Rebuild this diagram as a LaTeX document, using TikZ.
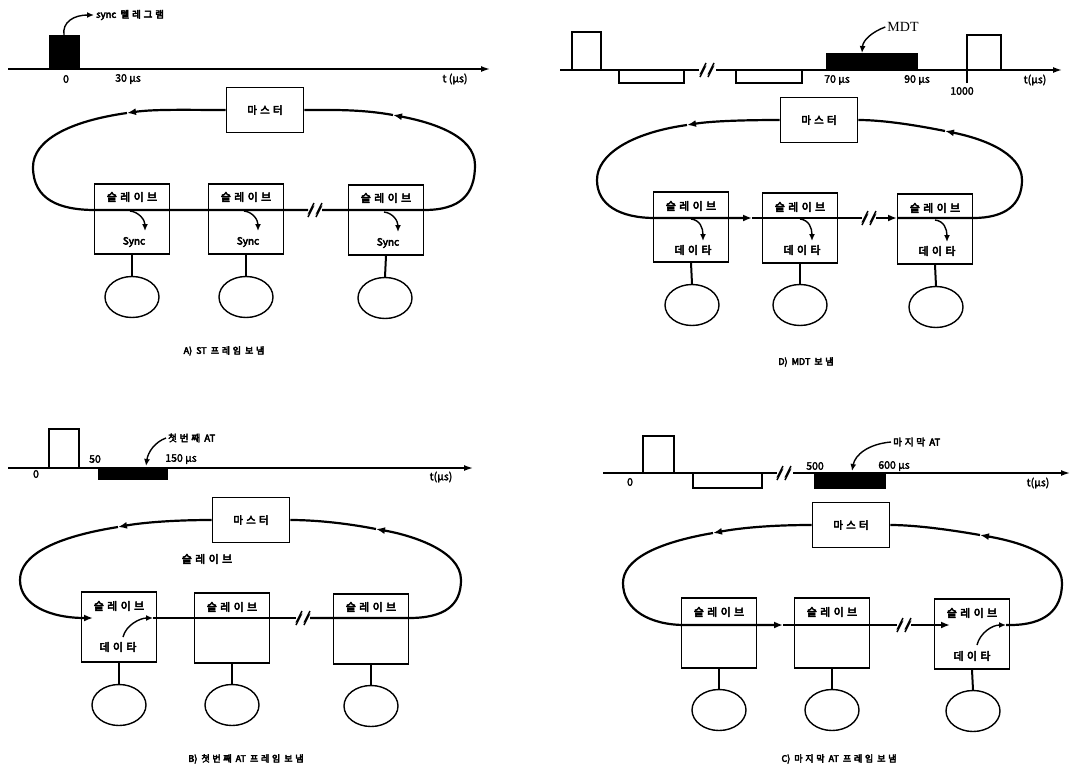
\documentclass[tikz,border=0pt]{standalone}
\usepackage{fontspec}
\setmainfont{Noto Sans CJK KR}[FakeBold=2.5]
\newfontfamily\kr{Noto Sans CJK KR}[FakeBold=4.5]
\newfontfamily\mdtfont{Liberation Serif}
\usetikzlibrary{arrows.meta,shapes.geometric}
\newcommand{\ls}{\hspace{0.3em}}
\newcommand{\zigbreak}[2]{%
  \draw[sigl,shift={(#1+3,#2)}] (-3,7)--(1,-1)--(-1,1)--(3,-7);
  \draw[sigl,shift={(#1+11,#2)}] (-3,7)--(1,-1)--(-1,1)--(3,-7);}
\newcommand{\slvtxt}{슬\ls 레\ls 이\ls 브}
\newcommand{\msttxt}{마\ls 스\ls 터}
\newcommand{\dattxt}{데\ls 이\ls 타}
\begin{document}
\begin{tikzpicture}[x=1pt,y=-1pt,
  ringl/.style={line width=2.2pt},
  arr/.style={-{Latex[length=9pt,width=7pt]}},
  slv/.style={draw,line width=1.6pt,minimum width=75pt,minimum height=70pt,inner sep=0pt},
  mst/.style={draw,line width=1.6pt,minimum width=77pt,minimum height=45pt,inner sep=0pt,font=\kr\fontsize{10.5}{10.5}\selectfont},
  devc/.style={draw,ellipse,line width=1.4pt,minimum width=54pt,minimum height=41pt,inner sep=0pt},
  stemline/.style={line width=2pt},
  lbl/.style={font=\kr\fontsize{11}{11}\selectfont,inner sep=0pt},
  numl/.style={font=\fontsize{10.5}{10.5}\selectfont,inner sep=0pt},
  captxt/.style={font=\kr\fontsize{9}{9}\selectfont,inner sep=0pt},
  tax/.style={line width=1.5pt,-{Latex[length=9pt,width=6pt]}},
  sigl/.style={line width=1.4pt},
  inarr/.style={line width=1.4pt,-{Latex[length=7pt,width=6pt]}},
]
\useasboundingbox (0,0) rectangle (1082,769);

%% ================= Panel A =================
\draw[tax] (8,69) -- (490,69);
\fill (49,35) rectangle (80,69);
\node[lbl,anchor=west,font=\kr\fontsize{9.5}{9.5}\selectfont] (aSyncL) at (96,15) {sync\ \ 텔\ls 레\ls 그\ls 램};
\draw[inarr] (64,35) .. controls (62,22) and (74,15) .. ([xshift=-2pt]aSyncL.west);
\node[numl] (a0) at (66,79) {0};
\node[numl] (a30) at (128,79) {30 μs};
\node[numl] (aT) at (455,79) {t (μs)};

\node[mst] (aM) at (265,110) {\msttxt};
\node[slv] (aS1) at (132,219) {};
\node[slv] (aS2) at (246,219) {};
\node[slv] (aS3) at (386,220) {};
\node[lbl] (aL1) at (132,197) {\slvtxt};
\node[lbl] (aL2) at (246,197) {\slvtxt};
\node[lbl] (aL3) at (386,198) {\slvtxt};
\node[lbl,font=\kr\fontsize{10}{10}\selectfont] (aY1) at (134,242) {Sync};
\node[lbl,font=\kr\fontsize{10}{10}\selectfont] (aY2) at (248,242) {Sync};
\node[lbl,font=\kr\fontsize{10}{10}\selectfont] (aY3) at (388,243) {Sync};
\node[devc] (aE1) at (132,297) {};
\node[devc] (aE2) at (246,297) {};
\node[devc] (aE3) at (385,298) {};
\draw[stemline] (aS1.south) -- (aE1.north);
\draw[stemline] (aS2.south) -- (aE2.north);
\draw[stemline] (aS3.south) -- (aE3.north);

\coordinate (aA1) at (127,113);
\coordinate (aA2) at (393,115);
\coordinate (aJL) at (95,210);
\coordinate (aJR) at (424,210);
\draw[ringl,arr] (aM.west) .. controls (190,110) and (155,109) .. (aA1);
\draw[ringl] (aA1) .. controls (70,121) and (33,140) .. (33,167) .. controls (33,200) and (60,210) .. (aJL) -- (308,210);
\zigbreak{308}{210}
\draw[ringl,arr] (322,210) -- (aJR) .. controls (460,210) and (475,195) .. (475,165) .. controls (475,135) and (430,122) .. (aA2);
\draw[ringl] (aA2) .. controls (360,109) and (330,110) .. (aM.east);
\draw[inarr] (130,211) .. controls (139,212) and (145,220) .. (145,231);
\draw[inarr] (244,211) .. controls (253,212) and (258,220) .. (258,231);
\draw[inarr] (384,212) .. controls (393,213) and (398,221) .. (398,232);
\node[captxt] (aCap) at (224,351) {A)\ \ ST\ \ 프\ls 레\ls 임\ \ 보\ls 냄};

%% ================= Panel D =================
\draw[tax] (700,70) -- (1062,70);
\draw[sigl] (560,70) -- (700,70);
\draw[sigl] (572,70) -- (572,32) -- (601,32) -- (601,70);
\draw[sigl] (619,70) -- (619,83) -- (684,83) -- (684,70);
\draw[line width=2pt,white] (699,70) -- (716,70);
\zigbreak{700}{70}
\draw[sigl] (736,70) -- (736,83) -- (802,83) -- (802,70);
\fill (826,53) rectangle (918,70);
\draw[sigl] (967,83) -- (967,35) -- (1001,35) -- (1001,70);
\node[inner sep=0pt,font=\mdtfont\fontsize{14}{14}\selectfont] (dMDT) at (903,27) {MDT};
\draw[inarr] ([xshift=-2pt]dMDT.west) .. controls (872,32) and (863,40) .. (862,53);
\node[numl] (d70) at (837,80) {70 μs};
\node[numl] (d90) at (917,80) {90 μs};
\node[numl] (d1000) at (962,91) {1000};
\node[numl] (dT) at (1035,80) {t(μs)};

\node[mst] (dM) at (819,120) {\msttxt};
\node[slv] (dS1) at (691,227) {};
\node[slv] (dS2) at (800,228) {};
\node[slv] (dS3) at (935,229) {};
\node[lbl] (dL1) at (691,206) {\slvtxt};
\node[lbl] (dL2) at (800,207) {\slvtxt};
\node[lbl] (dL3) at (935,208) {\slvtxt};
\node[lbl] (dD1) at (693,250) {\dattxt};
\node[lbl] (dD2) at (802,250) {\dattxt};
\node[lbl] (dD3) at (937,251) {\dattxt};
\node[devc] (dE1) at (692,305) {};
\node[devc] (dE2) at (800,305) {};
\node[devc] (dE3) at (936,307) {};
\draw[stemline] (dS1.south) -- (dE1.north);
\draw[stemline] (dS2.south) -- (dE2.north);
\draw[stemline] (dS3.south) -- (dE3.north);

\coordinate (dA1) at (687,125);
\coordinate (dA2) at (945,131);
\coordinate (dJL) at (655,218);
\coordinate (dJR) at (973,218);
\coordinate (dM1) at (752,218);
\coordinate (dM2) at (897,218);
\draw[ringl,arr] (dM.west) .. controls (745,120) and (712,121) .. (dA1);
\draw[ringl,arr] (dA1) .. controls (630,133) and (597,155) .. (597,180) .. controls (597,205) and (620,218) .. (dJL) -- (dM1);
\draw[ringl] (dM1) -- (862,218);
\zigbreak{862}{218}
\draw[ringl,arr] (876,218) -- (dM2);
\draw[ringl,arr] (dM2) -- (dJR) .. controls (1005,218) and (1022,205) .. (1022,180) .. controls (1022,152) and (980,138) .. (dA2);
\draw[ringl] (dA2) .. controls (910,124) and (880,120) .. (dM.east);
\draw[inarr] (691,219) .. controls (700,220) and (703,228) .. (703,241);
\draw[inarr] (800,219) .. controls (809,220) and (812,228) .. (812,241);
\draw[inarr] (935,220) .. controls (944,221) and (947,229) .. (947,242);
\node[captxt] (dCap) at (806,362) {D)\ \ MDT\ \ 보\ls 냄};

%% ================= Panel B =================
\draw[tax] (8,468) -- (473,468);
\draw[sigl] (49,468) -- (49,429) -- (79,429) -- (79,468);
\fill (98,468) rectangle (168,480);
\node[numl] (b0) at (36,474) {0};
\node[numl] (b50) at (95,459) {50};
\node[numl] (b150) at (181,459) {150 μs};
\node[lbl,anchor=west,font=\kr\fontsize{9.5}{9.5}\selectfont] (bAT) at (168,438) {첫\ls 번\ls 째\ \ AT};
\draw[inarr] ([xshift=-2pt]bAT.west) .. controls (155,442) and (148,452) .. (146,466);
\node[numl] (bT) at (441,477) {t(μs)};

\node[mst] (bM) at (251,520) {\msttxt};
\node[lbl] (bFl) at (207,559) {\slvtxt};
\node[slv] (bS1) at (119,627) {};
\node[slv] (bS2) at (232,628) {};
\node[slv] (bS3) at (371,629) {};
\node[lbl] (bL1) at (119,606) {\slvtxt};
\node[lbl] (bL2) at (232,607) {\slvtxt};
\node[lbl] (bL3) at (371,607) {\slvtxt};
\node[lbl] (bD1) at (118,647) {\dattxt};
\node[devc] (bE1) at (119,705) {};
\node[devc] (bE2) at (232,705) {};
\node[devc] (bE3) at (371,706) {};
\draw[stemline] (bS1.south) -- (bE1.north);
\draw[stemline] (bS2.south) -- (bE2.north);
\draw[stemline] (bS3.south) -- (bE3.north);

\coordinate (bA1) at (118,527);
\coordinate (bA2) at (376,529);
\coordinate (bIn) at (93,618);
\coordinate (bOut) at (153,618);
\coordinate (bJR) at (409,618);
\draw[ringl,arr] (bM.west) .. controls (170,520) and (140,523) .. (bA1);
\draw[ringl,arr] (bA1) .. controls (55,537) and (20,555) .. (20,580) .. controls (20,605) and (50,618) .. (bIn);
\draw[inarr] (123,637) .. controls (126,625) and (140,618) .. (bOut);
\draw[ringl] (bOut) -- (296,618);
\zigbreak{296}{618}
\draw[ringl,arr] (310,618) -- (bJR) .. controls (445,618) and (461,605) .. (461,580) .. controls (461,550) and (410,535) .. (bA2);
\draw[ringl] (bA2) .. controls (340,522) and (310,520) .. (bM.east);
\node[captxt] (bCap) at (246,759) {B)\ \ 첫\ls 번\ls 째\ \ AT\ \ 프\ls 레\ls 임\ \ 보\ls 냄};

%% ================= Panel C =================
\draw[tax] (793,473) -- (1070,473);
\draw[sigl] (603,473) -- (777,473);
\draw[sigl] (643,473) -- (643,436) -- (674,436) -- (674,473);
\draw[sigl] (693,473) -- (693,488) -- (762,488) -- (762,473);
\zigbreak{777}{473}
\fill (814,473) rectangle (886,489);
\node[numl] (c0) at (630,482) {0};
\node[numl] (c500) at (815,466) {500};
\node[numl] (c600) at (894,466) {600 μs};
\node[lbl,anchor=west,font=\kr\fontsize{9.5}{9.5}\selectfont] (cAT) at (893,442) {마\ls 지\ls 막\ \ AT};
\draw[inarr] ([xshift=-2pt]cAT.west) .. controls (868,444) and (855,455) .. (852,471);
\node[numl] (cT) at (1038,483) {t(μs)};

\node[mst] (cM) at (851,525) {\msttxt};
\node[slv] (cS1) at (719,633) {};
\node[slv] (cS2) at (832,633) {};
\node[slv] (cS3) at (972,634) {};
\node[lbl] (cL1) at (719,612) {\slvtxt};
\node[lbl] (cL2) at (832,612) {\slvtxt};
\node[lbl] (cL3) at (972,613) {\slvtxt};
\node[lbl] (cD3) at (972,656) {\dattxt};
\node[devc] (cE1) at (719,710) {};
\node[devc] (cE2) at (832,710) {};
\node[devc] (cE3) at (973,711) {};
\draw[stemline] (cS1.south) -- (cE1.north);
\draw[stemline] (cS2.south) -- (cE2.north);
\draw[stemline] (cS3.south) -- (cE3.north);

\coordinate (cA1) at (713,533);
\coordinate (cA2) at (980,535);
\coordinate (cJL) at (685,625);
\coordinate (cM1) at (783,625);
\coordinate (cIn) at (950,625);
\coordinate (cOut) at (1006,625);
\draw[ringl,arr] (cM.west) .. controls (770,525) and (740,528) .. (cA1);
\draw[ringl,arr] (cA1) .. controls (655,543) and (623,560) .. (623,583) .. controls (623,610) and (650,625) .. (cJL) -- (cM1);
\draw[ringl] (cM1) -- (897,625);
\zigbreak{897}{625}
\draw[ringl,arr] (911,625) -- (cIn);
\draw[inarr] (977,645) .. controls (980,633) and (992,625) .. (cOut);
\draw[ringl,arr] (cOut) -- (1010,625) .. controls (1045,625) and (1062,610) .. (1062,583) .. controls (1062,555) and (1020,542) .. (cA2);
\draw[ringl] (cA2) .. controls (940,528) and (910,525) .. (cM.east);
\node[captxt] (cCap) at (839,759) {C)\ \ 마\ls 지\ls 막\ \ AT\ \ 프\ls 레\ls 임\ \ 보\ls 냄};
\end{tikzpicture}
\end{document}
